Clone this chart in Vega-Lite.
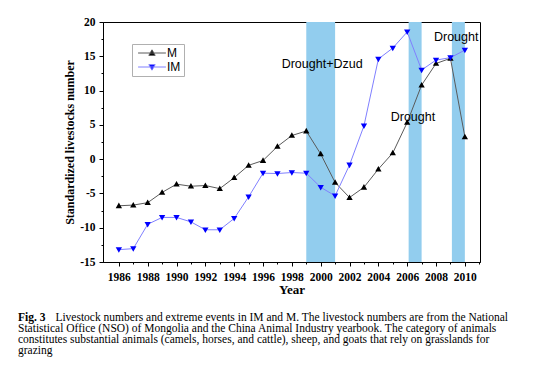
{
  "$schema": "https://vega.github.io/schema/vega-lite/v6.json",
  "width": 377,
  "height": 240,
  "autosize": {"type": "none"},
  "padding": {"left": 103, "top": 22, "right": 59, "bottom": 107},
  "config": {
    "view": {"stroke": "black", "strokeWidth": 1},
    "font": "Liberation Serif",
    "axis": {"labelOverlap": false}
  },
  "title": {
    "text": "Fig. 3",
    "subtitle": [
      "\u200b\u00a0\u00a0\u00a0\u00a0\u00a0\u00a0\u00a0\u00a0\u00a0\u00a0\u00a0\u00a0\u00a0Livestock numbers and extreme events in IM and M. The livestock numbers are from the National",
      "Statistical Office (NSO) of Mongolia and the China Animal Industry yearbook. The category of animals",
      "constitutes substantial animals (camels, horses, and cattle), sheep, and goats that rely on grasslands for",
      "grazing"
    ],
    "orient": "bottom",
    "anchor": "start",
    "frame": "group",
    "dx": -85,
    "offset": 15,
    "font": "Liberation Serif",
    "fontSize": 11.5,
    "fontWeight": "bold",
    "color": "black",
    "subtitleFont": "Liberation Serif",
    "subtitleFontSize": 11.5,
    "subtitleColor": "black",
    "subtitleLineHeight": 11.2,
    "subtitlePadding": -11.5
  },
  "datasets": {
    "series": [
      {"year": 1986, "series": "M", "value": -6.8},
      {"year": 1987, "series": "M", "value": -6.7},
      {"year": 1988, "series": "M", "value": -6.35},
      {"year": 1989, "series": "M", "value": -4.85},
      {"year": 1990, "series": "M", "value": -3.65},
      {"year": 1991, "series": "M", "value": -3.95},
      {"year": 1992, "series": "M", "value": -3.85},
      {"year": 1993, "series": "M", "value": -4.3},
      {"year": 1994, "series": "M", "value": -2.7},
      {"year": 1995, "series": "M", "value": -0.9},
      {"year": 1996, "series": "M", "value": -0.2},
      {"year": 1997, "series": "M", "value": 1.85},
      {"year": 1998, "series": "M", "value": 3.45},
      {"year": 1999, "series": "M", "value": 4.1},
      {"year": 2000, "series": "M", "value": 0.75},
      {"year": 2001, "series": "M", "value": -3.4},
      {"year": 2002, "series": "M", "value": -5.6},
      {"year": 2003, "series": "M", "value": -4.1},
      {"year": 2004, "series": "M", "value": -1.45},
      {"year": 2005, "series": "M", "value": 0.9},
      {"year": 2006, "series": "M", "value": 5.35},
      {"year": 2007, "series": "M", "value": 10.8},
      {"year": 2008, "series": "M", "value": 13.95},
      {"year": 2009, "series": "M", "value": 14.7},
      {"year": 2010, "series": "M", "value": 3.25},
      {"year": 1986, "series": "IM", "value": -13.2},
      {"year": 1987, "series": "IM", "value": -13.05},
      {"year": 1988, "series": "IM", "value": -9.5},
      {"year": 1989, "series": "IM", "value": -8.5},
      {"year": 1990, "series": "IM", "value": -8.5},
      {"year": 1991, "series": "IM", "value": -9.15},
      {"year": 1992, "series": "IM", "value": -10.3},
      {"year": 1993, "series": "IM", "value": -10.3},
      {"year": 1994, "series": "IM", "value": -8.65},
      {"year": 1995, "series": "IM", "value": -5.5},
      {"year": 1996, "series": "IM", "value": -2.05},
      {"year": 1997, "series": "IM", "value": -2.1},
      {"year": 1998, "series": "IM", "value": -1.95},
      {"year": 1999, "series": "IM", "value": -2.05},
      {"year": 2000, "series": "IM", "value": -4.1},
      {"year": 2001, "series": "IM", "value": -5.35},
      {"year": 2002, "series": "IM", "value": -0.85},
      {"year": 2003, "series": "IM", "value": 4.85},
      {"year": 2004, "series": "IM", "value": 14.6},
      {"year": 2005, "series": "IM", "value": 16.2},
      {"year": 2006, "series": "IM", "value": 18.55},
      {"year": 2007, "series": "IM", "value": 13.0},
      {"year": 2008, "series": "IM", "value": 14.45},
      {"year": 2009, "series": "IM", "value": 14.8},
      {"year": 2010, "series": "IM", "value": 15.9}
    ],
    "bands": [
      {"start": 1999.0, "end": 2001.0},
      {"start": 2006.1, "end": 2007.0},
      {"start": 2009.1, "end": 2010.0}
    ],
    "notes": [
      {"year": 2000.1, "value": 13.85, "label": "Drought+Dzud"},
      {"year": 2006.4, "value": 6.1, "label": "Drought"},
      {"year": 2009.4, "value": 17.8, "label": "Drought"}
    ]
  },
  "resolve": {"axis": {"x": "independent", "y": "independent"}},
  "layer": [
    {
      "data": {"name": "bands"},
      "mark": {"type": "rect", "color": "#92cdee", "opacity": 1},
      "encoding": {
        "x": {"field": "start", "type": "quantitative", "axis": null},
        "x2": {"field": "end"}
      }
    },
    {
      "data": {"name": "series"},
      "mark": {"type": "line", "strokeWidth": 1},
      "encoding": {
        "x": {
          "field": "year",
          "type": "quantitative",
          "scale": {"domain": [1984.9, 2011.05], "nice": false, "zero": false},
          "axis": {
            "orient": "bottom",
            "title": "Year",
            "values": [1986, 1988, 1990, 1992, 1994, 1996, 1998, 2000, 2002, 2004, 2006, 2008, 2010],
            "format": "d",
            "grid": false,
            "domainColor": "black",
            "tickColor": "black",
            "tickSize": 4,
            "labelPadding": 5,
            "labelFont": "Liberation Serif",
            "labelFontWeight": "bold",
            "labelFontSize": 11.5,
            "labelColor": "black",
            "titleFont": "Liberation Serif",
            "titleFontWeight": "bold",
            "titleFontSize": 13,
            "titleColor": "black",
            "titlePadding": 1,
            "labelOverlap": false,
            "labelFlush": false
          }
        },
        "y": {
          "field": "value",
          "type": "quantitative",
          "scale": {"domain": [-15, 20], "nice": false, "zero": false},
          "axis": {
            "orient": "left",
            "title": "Standardized livestocks number",
            "values": [-15, -10, -5, 0, 5, 10, 15, 20],
            "labelExpr": "'' + datum.value",
            "grid": false,
            "domainColor": "black",
            "tickColor": "black",
            "tickSize": 4,
            "labelPadding": 4,
            "labelFont": "Liberation Serif",
            "labelFontWeight": "bold",
            "labelFontSize": 11.5,
            "labelColor": "black",
            "titleFont": "Liberation Serif",
            "titleFontWeight": "bold",
            "titleFontSize": 12,
            "titleColor": "black",
            "titlePadding": 3,
            "labelOverlap": false,
            "labelFlush": false
          }
        },
        "detail": {"field": "series"},
        "color": {
          "condition": {"test": "datum.series === 'M'", "value": "#5a5a5a"},
          "value": "#8080ff"
        }
      }
    },
    {
      "data": {"name": "series"},
      "mark": {"type": "point", "filled": true, "size": 40, "opacity": 1, "strokeWidth": 0},
      "encoding": {
        "x": {
          "field": "year",
          "type": "quantitative",
          "axis": {
            "orient": "bottom",
            "title": null,
            "values": [1987, 1989, 1991, 1993, 1995, 1997, 1999, 2001, 2003, 2005, 2007, 2009, 2011],
            "labels": false,
            "domain": false,
            "grid": false,
            "tickColor": "black",
            "tickSize": 2
          }
        },
        "y": {
          "field": "value",
          "type": "quantitative",
          "axis": {
            "orient": "left",
            "title": null,
            "values": [-12.5, -7.5, -2.5, 2.5, 7.5, 12.5, 17.5],
            "labels": false,
            "domain": false,
            "grid": false,
            "tickColor": "black",
            "tickSize": 2
          }
        },
        "fill": {
          "field": "series",
          "type": "nominal",
          "scale": {"domain": ["M", "IM"], "range": ["#000000", "#0000ff"]},
          "legend": {
            "title": null,
            "orient": "none",
            "legendX": 29,
            "legendY": 22,
            "strokeColor": "#b0b0b0",
            "fillColor": "white",
            "padding": 3,
            "symbolSize": 40,
            "symbolOffset": 11,
            "symbolStrokeWidth": 1,
            "labelOffset": 9,
            "rowPadding": 2,
            "labelFont": "Liberation Sans",
            "labelFontSize": 12,
            "labelColor": "black"
          }
        },
        "stroke": {
          "field": "series",
          "type": "nominal",
          "scale": {"domain": ["M", "IM"], "range": ["#5a5a5a", "#8080ff"]}
        },
        "shape": {
          "field": "series",
          "type": "nominal",
          "scale": {"domain": ["M", "IM"], "range": ["M-4.4,0H4.4M0,-1L1,0.75L-1,0.75Z", "M-4.4,0H4.4M0,1L1,-0.75L-1,-0.75Z"]}
        }
      }
    },
    {
      "data": {"name": "notes"},
      "mark": {"type": "text", "font": "Liberation Sans", "fontSize": 12.5, "color": "black", "align": "center", "baseline": "middle"},
      "encoding": {
        "x": {"field": "year", "type": "quantitative", "axis": null},
        "y": {"field": "value", "type": "quantitative", "axis": null},
        "text": {"field": "label"}
      }
    }
  ]
}
